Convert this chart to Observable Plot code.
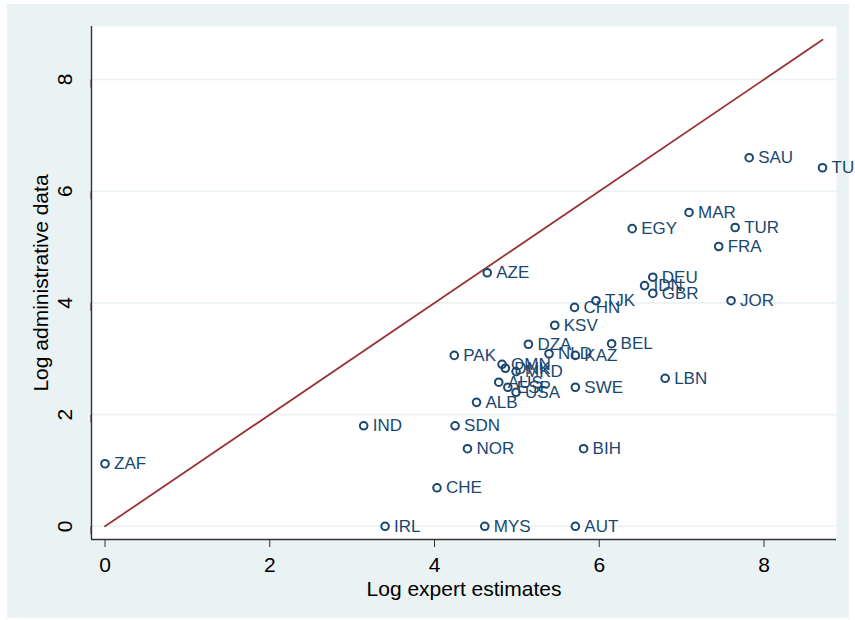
<!DOCTYPE html>
<html>
<head>
<meta charset="utf-8">
<script src="https://cdn.jsdelivr.net/npm/d3@7"></script>
<script src="https://cdn.jsdelivr.net/npm/@observablehq/plot@0.6"></script>
<style>
  html, body { margin: 0; padding: 0; background: #ffffff; }
  #page { position: relative; width: 855px; height: 620px; overflow: hidden; }
  #bg { position: absolute; left: 7px; top: 4px; width: 842px; height: 614px; background: #EAF2F3; }
  #chart { position: absolute; left: 0; top: 0; }
</style>
</head>
<body>
<div id="page"><div id="bg"></div><div id="chart"></div></div>
<script>
const countries = ["ZAF","IND","IRL","PAK","SDN","NOR","CHE","MYS","AUT","BIH","ALB","AZE","SWE","LBN","DZA","KSV","NLD","KAZ","BEL","CHN","TJK","DEU","IDN","GBR","JOR","EGY","MAR","TUR","FRA","SAU","TUN","OMN","DNK","MKD","AUS","ESP","USA"];
const expertLog = [0.00,3.14,3.40,4.24,4.25,4.40,4.03,4.61,5.71,5.81,4.51,4.64,5.71,6.80,5.14,5.46,5.39,5.71,6.15,5.70,5.96,6.65,6.55,6.65,7.60,6.40,7.09,7.65,7.45,7.82,8.71,4.82,4.86,4.99,4.78,4.89,4.99];
const adminLog  = [1.12,1.80,0.00,3.06,1.80,1.39,0.69,0.00,0.00,1.39,2.22,4.54,2.49,2.65,3.26,3.60,3.09,3.06,3.27,3.92,4.04,4.46,4.31,4.17,4.04,5.33,5.62,5.35,5.01,6.60,6.42,2.90,2.83,2.77,2.58,2.49,2.40];
const tickValues = [0, 2, 4, 6, 8];
const diagonal = [0, 8.71];

const data = countries.map((c, i) => ({country: c, expert: expertLog[i], admin: adminLog[i]}));
const line = diagonal.map(v => ({expert: v, admin: v}));

const font = "'Liberation Sans', Arial, Helvetica, sans-serif";
const xDomain = [-0.164, 8.88];
const yDomain = [-0.236, 8.949];

const chart = Plot.plot({
  width: 855,
  height: 620,
  marginLeft: 91,
  marginRight: 19,
  marginTop: 26,
  marginBottom: 81,
  style: {background: "transparent", fontFamily: font, overflow: "visible"},
  x: {domain: xDomain},
  y: {domain: yDomain},
  marks: [
    Plot.frame({fill: "white", stroke: null}),
    Plot.gridY(tickValues, {stroke: "#EAF2F3", strokeOpacity: 1, strokeWidth: 1.6}),
    Plot.line(line, {x: "expert", y: "admin", stroke: "#9b3236", strokeWidth: 1.8}),
    Plot.dot(data, {x: "expert", y: "admin", r: 3.8, stroke: "#1a476f", strokeWidth: 2}),
    Plot.text(data, {x: "expert", y: "admin", text: "country", textAnchor: "start", dx: 9, fill: "#1a476f", fontSize: 17}),
    Plot.ruleX([xDomain[0]], {stroke: "#333333", strokeWidth: 1.4}),
    Plot.ruleY([yDomain[0]], {stroke: "#333333", strokeWidth: 1.4}),
    Plot.axisX({ticks: tickValues, tickSize: 8, tickPadding: 10, fontSize: 21, stroke: "#333333", color: "#000000",
      label: "Log expert estimates", labelAnchor: "center", labelArrow: "none", labelOffset: 56}),
    Plot.axisY({ticks: tickValues, tickSize: 8, tickPadding: 18, fontSize: 21, rotate: -90, textAnchor: "middle", stroke: "#333333", color: "#000000",
      label: "Log administrative data", labelAnchor: "center", labelArrow: "none", labelOffset: 58})
  ]
});
document.getElementById("chart").appendChild(chart);
</script>
</body>
</html>
